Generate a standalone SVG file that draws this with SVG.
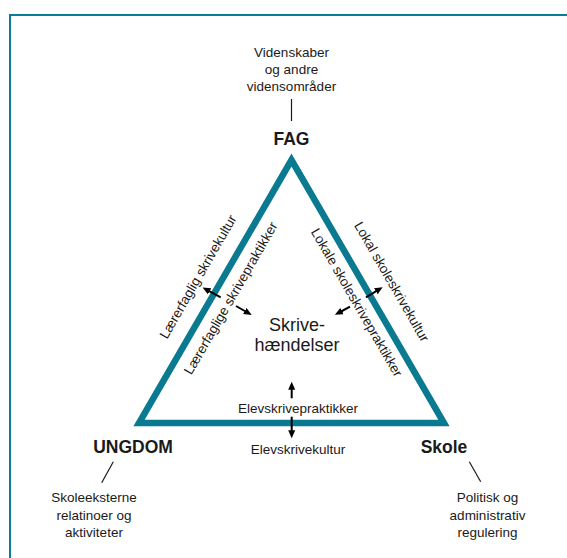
<svg xmlns="http://www.w3.org/2000/svg" width="567" height="558" viewBox="0 0 567 558">
  <style>
    text { font-family: "Liberation Sans", Arial, sans-serif; fill: #1a1a1a; }
    .sm { font-size: 13.5px; }
    .bold { font-size: 17.5px; font-weight: bold; }
    .big { font-size: 18px; }
    .tick { stroke: #1a1a1a; stroke-width: 1.2; fill: none; }
    .arr { stroke: #000; stroke-width: 2; fill: none; marker-end: url(#ah); }
  </style>
  <defs>
    <marker id="ah" markerUnits="userSpaceOnUse" markerWidth="9" markerHeight="8" refX="1.5" refY="3.5" orient="auto">
      <path d="M0,0 L8,3.5 L0,7 z" fill="#000"/>
    </marker>
  </defs>
  <rect width="567" height="558" fill="#fff"/>
  <path d="M10,558 V15 H567" fill="none" stroke="#0a7d96" stroke-width="2"/>

  <g id="triangle">
    <polygon points="291.5,160 139,423 444,423" fill="none" stroke="#0a7a91" stroke-width="6.5" stroke-linejoin="miter"/>
  </g>

  <g id="fag">
    <text class="sm" x="291.5" y="57" text-anchor="middle">Videnskaber</text>
    <text class="sm" x="291.5" y="74" text-anchor="middle">og andre</text>
    <text class="sm" x="291.5" y="91" text-anchor="middle">vidensområder</text>
    <line class="tick" x1="291.5" y1="99" x2="291.5" y2="121"/>
    <text class="bold" x="291.5" y="145" text-anchor="middle">FAG</text>
  </g>

  <g id="ungdom">
    <text class="bold" x="133" y="453" text-anchor="middle">UNGDOM</text>
    <line class="tick" x1="113.3" y1="461.7" x2="101.7" y2="482.7"/>
    <text class="sm" x="94" y="502" text-anchor="middle">Skoleeksterne</text>
    <text class="sm" x="94" y="519.5" text-anchor="middle">relatinoer og</text>
    <text class="sm" x="94" y="537" text-anchor="middle">aktiviteter</text>
  </g>

  <g id="skole">
    <text class="bold" x="444" y="453" text-anchor="middle">Skole</text>
    <line class="tick" x1="469.3" y1="461.7" x2="480.7" y2="481.7"/>
    <text class="sm" x="487.5" y="502" text-anchor="middle">Politisk og</text>
    <text class="sm" x="487.5" y="519.5" text-anchor="middle">administrativ</text>
    <text class="sm" x="487.5" y="537" text-anchor="middle">regulering</text>
  </g>

  <g id="skrivehaendelser">
    <text class="big" x="297" y="331" text-anchor="middle">Skrive-</text>
    <text class="big" x="297" y="351" text-anchor="middle">hændelser</text>
  </g>

  <g id="side-labels">
    <text class="sm" transform="translate(202,279) rotate(-60)" text-anchor="middle">Lærerfaglig skrivekultur</text>
    <text class="sm" transform="translate(234.7,300.5) rotate(-60)" text-anchor="middle">Lærerfaglige skrivepraktikker</text>
    <text class="sm" transform="translate(387.8,284) rotate(60)" text-anchor="middle">Lokal skoleskrivekultur</text>
    <text class="sm" transform="translate(352.8,304.8) rotate(60)" text-anchor="middle">Lokale skoleskrivepraktikker</text>
    <text class="sm" x="298" y="413" text-anchor="middle">Elevskrivepraktikker</text>
    <text class="sm" x="298" y="454" text-anchor="middle">Elevskrivekultur</text>
  </g>

  <g id="connectors">
    <line class="arr" x1="220.7" y1="297.3" x2="208.3" y2="290.6"/>
    <line class="arr" x1="236" y1="306" x2="246.1" y2="311.75"/>
    <line class="arr" x1="366" y1="297.3" x2="377.1" y2="290.55"/>
    <line class="arr" x1="350" y1="306.7" x2="340.6" y2="311.75"/>
    <line class="arr" x1="291.7" y1="398.3" x2="291.7" y2="388.2"/>
    <line class="arr" x1="291.7" y1="416.7" x2="291.7" y2="431.8"/>
  </g>
</svg>
